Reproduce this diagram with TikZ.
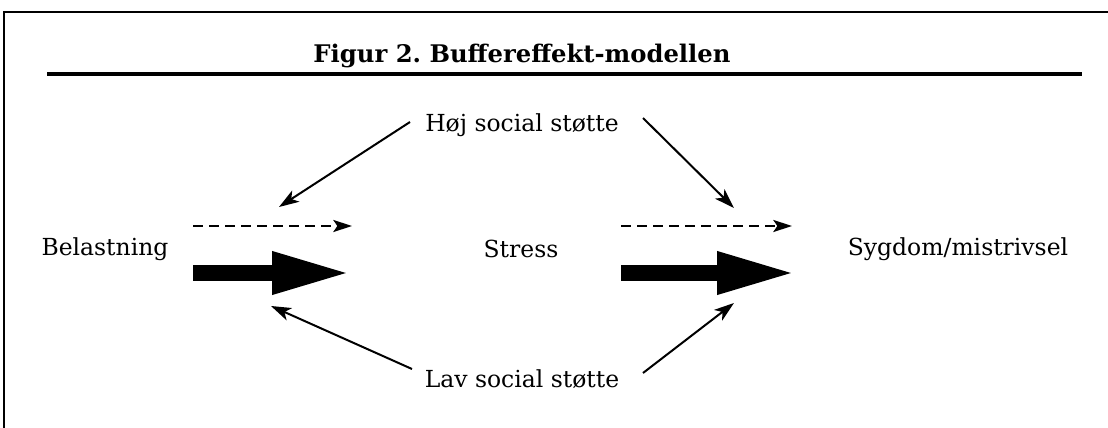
\documentclass[tikz,border=0pt]{standalone}
\usepackage{fontspec}
\setmainfont{DejaVu Serif}
\usetikzlibrary{arrows.meta}
\frenchspacing
\tikzset{
  lbl/.style={font=\fontsize{17.6}{20}\selectfont, inner sep=0pt},
  ttl/.style={font=\bfseries\fontsize{18.2}{21}\selectfont, inner sep=0pt},
  thin arrow/.style={line width=1.5pt, -{Stealth[length=15pt, width=10pt, inset=4pt]}},
  dash arrow/.style={line width=1.7pt, dash pattern=on 7.5pt off 4.5pt, -{Stealth[length=14pt, width=9pt, inset=3pt]}},
  big arrow/.style={line width=12pt, -{Triangle[length=60pt, width=29pt]}},
  frame/.style={line width=1.5pt}
}
\begin{document}
\begin{tikzpicture}[x=0.75pt,y=-0.75pt]
\useasboundingbox (0,0) rectangle (1108,428);
% frame
\coordinate (f1) at (4,428);
\coordinate (f2) at (4,12);
\coordinate (f3) at (1108,12);
\draw[frame] (f1) -- (f2) -- (f3);
% title
\node[ttl] (title) at (522,56) {Figur 2. Buffereffekt-modellen};
\coordinate (u1) at (47,74);
\coordinate (u2) at (1082,74);
\draw[line width=2.4pt] (u1) -- (u2);
% labels
\node[lbl] (hoj) at (522,125) {Høj social støtte};
\node[lbl] (lav) at (522,379) {Lav social støtte};
\node[lbl] (bel) at (105,249) {Belastning};
\node[lbl] (str) at (521,249) {Stress};
\node[lbl] (syg) at (958,249) {Sygdom/mistrivsel};
% end points
\coordinate (d1s) at (193,226); \coordinate (d1e) at (352,226);
\coordinate (d2s) at (621,226); \coordinate (d2e) at (792,226);
\coordinate (b1s) at (193,273); \coordinate (b1e) at (352,273);
\coordinate (b2s) at (621,273); \coordinate (b2e) at (797,273);
\coordinate (h1s) at (410,122); \coordinate (h1e) at (279,207);
\coordinate (h2s) at (643,118); \coordinate (h2e) at (734,208);
\coordinate (l1s) at (412,369); \coordinate (l1e) at (271,306);
\coordinate (l2s) at (643,373); \coordinate (l2e) at (734,303);
% arrows
\draw[dash arrow] (d1s) -- (d1e);
\draw[dash arrow] (d2s) -- (d2e);
\draw[big arrow] (b1s) -- (b1e);
\draw[big arrow] (b2s) -- (b2e);
\draw[thin arrow] (h1s) -- (h1e);
\draw[thin arrow] (h2s) -- (h2e);
\draw[thin arrow] (l1s) -- (l1e);
\draw[thin arrow] (l2s) -- (l2e);
\end{tikzpicture}
\end{document}
